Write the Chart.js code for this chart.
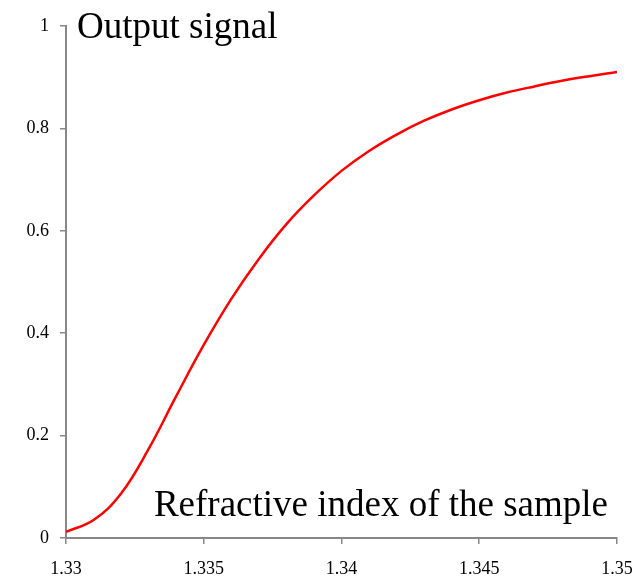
<!DOCTYPE html>
<html>
<head>
<meta charset="utf-8">
<script src="https://cdn.jsdelivr.net/npm/chart.js@4/dist/chart.umd.min.js"></script>
<style>
  html, body { margin: 0; padding: 0; background: #fff; }
  #wrap { width: 642px; height: 577px; }
</style>
</head>
<body>
<div id="wrap"><canvas id="signal-chart"></canvas></div>
<script>
// refractive index (x) and output signal (y)
const refractiveIndex = [1.330, 1.331, 1.332, 1.333, 1.334, 1.335, 1.336, 1.337, 1.338, 1.339,
  1.340, 1.341, 1.342, 1.343, 1.344, 1.345, 1.346, 1.347, 1.348, 1.349, 1.350];
const outputSignal = [0.012, 0.035, 0.087, 0.174, 0.277, 0.377, 0.467, 0.545, 0.613, 0.669,
  0.717, 0.756, 0.788, 0.815, 0.837, 0.855, 0.870, 0.882, 0.893, 0.902, 0.910];
const xTicks = [1.33, 1.335, 1.34, 1.345, 1.35];
const yTicks = [0, 0.2, 0.4, 0.6, 0.8, 1];

const axisColor = "#888";
const serif = "'Liberation Serif', 'Times New Roman', serif";

// texts written inside the plot area
const insideLabels = {
  id: "insideLabels",
  afterDraw(chart) {
    const { ctx, chartArea } = chart;
    ctx.save();
    ctx.fillStyle = "#000";
    ctx.font = "37px " + serif;
    ctx.textBaseline = "alphabetic";
    ctx.textAlign = "left";
    ctx.fillText("Output signal", chartArea.left + 11, chartArea.top + 12);
    ctx.textAlign = "right";
    ctx.fillText("Refractive index of the sample", chartArea.right - 9, chartArea.bottom - 22);
    ctx.restore();
  },
};

const points = refractiveIndex.map((x, i) => ({ x: x, y: outputSignal[i] }));

new Chart(document.getElementById("signal-chart"), {
  type: "line",
  plugins: [insideLabels],
  data: {
    datasets: [
      {
        data: points,
        borderColor: "#ff0000",
        borderWidth: 2.5,
        pointRadius: 0,
        tension: 0.4,
        fill: false,
      },
    ],
  },
  options: {
    responsive: true,
    maintainAspectRatio: false,
    animation: false,
    layout: { padding: { top: 26, right: 25, left: 0, bottom: 0 } },
    plugins: { legend: { display: false }, tooltip: { enabled: false } },
    scales: {
      x: {
        type: "linear",
        min: 1.33,
        max: 1.35,
        afterBuildTicks: (scale) => { scale.ticks = xTicks.map((v) => ({ value: v })); },
        afterFit: (scale) => {
          scale.height = 39;
          scale.paddingLeft = 0;
          scale.paddingRight = 0;
        },
        ticks: {
          color: "#000",
          font: { family: serif, size: 18 },
          padding: 14,
          maxRotation: 0,
          callback: (v) => String(+v.toFixed(3)),
        },
        grid: { drawOnChartArea: false, drawTicks: true, tickLength: 6, color: axisColor, lineWidth: 1.5 },
        border: { color: axisColor, width: 2 },
      },
      y: {
        min: 0,
        max: 1,
        afterBuildTicks: (scale) => { scale.ticks = yTicks.map((v) => ({ value: v })); },
        afterFit: (scale) => { scale.width = 66; },
        ticks: {
          color: "#000",
          font: { family: serif, size: 18 },
          padding: 11,
          callback: (v) => String(+v.toFixed(1)),
        },
        grid: { drawOnChartArea: false, drawTicks: true, tickLength: 6, color: axisColor, lineWidth: 1.5 },
        border: { color: axisColor, width: 2 },
      },
    },
  },
});
</script>
</body>
</html>
